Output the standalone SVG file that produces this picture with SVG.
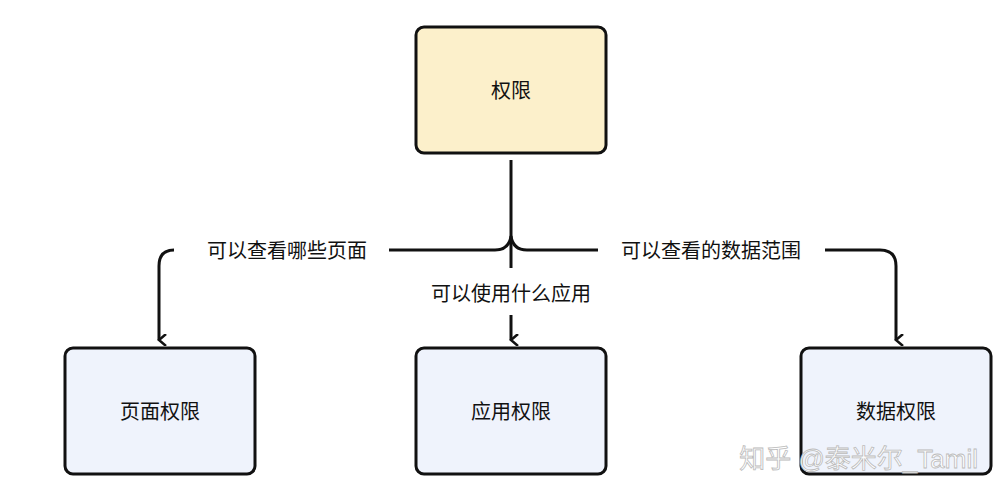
<svg xmlns="http://www.w3.org/2000/svg" width="1005" height="500" viewBox="0 0 1005 500">
<style>
.box{stroke:#111;stroke-width:3}
.t{font-family:"Liberation Sans","Noto Sans CJK SC",sans-serif;font-size:20px;fill:#111;text-anchor:middle}
.c{fill:none;stroke:#111;stroke-width:3}
</style>
<defs><marker id="a" viewBox="0 0 12 12" refX="6" refY="10" markerWidth="12" markerHeight="12" markerUnits="userSpaceOnUse" orient="auto-start-reverse"><path d="M0,3 L6,10 L12,3" fill="none" stroke="#111" stroke-width="2.5"/></marker></defs>
<rect width="1005" height="500" fill="#fff"/>
<g id="root"><rect class="box" x="416" y="27" width="190" height="126" rx="8" fill="#fcf0cb"/><text class="t" x="511" y="98">权限</text></g>
<g id="page"><rect class="box" x="65" y="348" width="190" height="126" rx="8" fill="#eff3fc"/><text class="t" x="160" y="419">页面权限</text></g>
<g id="app"><rect class="box" x="416" y="348" width="190" height="126" rx="8" fill="#eff3fc"/><text class="t" x="511" y="419">应用权限</text></g>
<g id="data"><rect class="box" x="801" y="348" width="190" height="126" rx="8" fill="#eff3fc"/><text class="t" x="896" y="419">数据权限</text></g>
<g id="connectors">
<path class="c" d="M511,160 V268"/>
<path class="c" d="M511,315 V340" marker-end="url(#a)"/>
<path class="c" d="M389,250 H495 Q509,250 511,236 Q513,250 527,250 H598"/>
<path class="c" d="M174,250 Q159,250 159,266 V340" marker-end="url(#a)"/>
<path class="c" d="M616+0,0" />
<path class="c" d="M825,250 H880 Q896,250 896,266 V340" marker-end="url(#a)"/>
<text class="t" x="287" y="258">可以查看哪些页面</text>
<text class="t" x="511" y="301">可以使用什么应用</text>
<text class="t" x="711" y="258">可以查看的数据范围</text>
</g>
<text x="978" y="468" style="font-family:'Liberation Sans','Noto Sans CJK SC',sans-serif;font-size:26px;fill:#fff;stroke:#bbb;stroke-width:0.8;text-anchor:end">知乎 @泰米尔_Tamil</text>
</svg>
